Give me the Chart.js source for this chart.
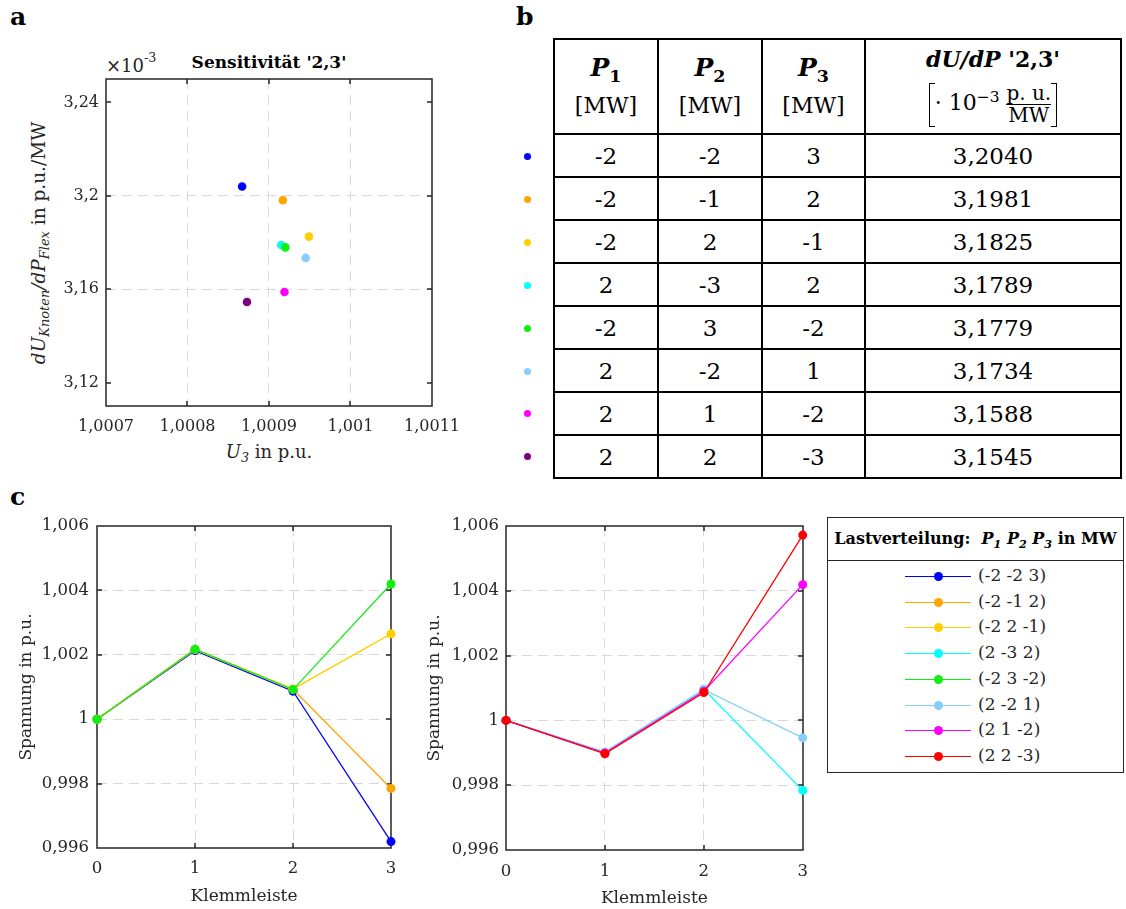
<!DOCTYPE html>
<html>
<head>
<meta charset="utf-8">
<script src="https://cdn.jsdelivr.net/npm/chart.js@4.4.1/dist/chart.umd.min.js"></script>
<style>
  body { margin: 0; background: #fff; font-family: 'DejaVu Serif', serif; color: #262626; }
  #page { position: relative; width: 1126px; height: 909px; overflow: hidden; }
  canvas { position: absolute; }
  .lbl { position: absolute; font-weight: bold; font-size: 25px; color: #000; }
  .abs { position: absolute; white-space: nowrap; }
  sub, sup { font-size: 70%; }
  #tbl { position: absolute; left: 553px; top: 38px; width: 559px; border-collapse: collapse; table-layout: fixed; color: #000; }
  #tbl td, #tbl th { border: 2px solid #000; text-align: center; padding: 0; font-size: 23px; font-weight: normal; }
  #tbl th { height: 93px; }
  #tbl td { height: 41px; }
  .tdot { position: absolute; width: 7px; height: 7px; border-radius: 50%; }
  .frac { display: inline-flex; flex-direction: column; vertical-align: middle; font-size: 20px; line-height: 21px; }
  .frac span:first-child { border-bottom: 1.5px solid #000; }
  .brk { display: inline-block; width: 5px; height: 42px; border: 1.5px solid #000; vertical-align: middle; }
  #legend { position: absolute; left: 827px; top: 517px; width: 297px; height: 256px; box-sizing: border-box; border: 1.5px solid #262626; background: #fff; }
  #legend .hdr { height: 42px; line-height: 42px; border-bottom: 1.5px solid #262626; text-align: center; font-weight: bold; font-size: 16px; color: #000; }
  .lrow { position: absolute; height: 20px; }
  .lline { position: absolute; left: 77px; top: 9px; width: 66px; height: 1.5px; }
  .ldot { position: absolute; left: 106px; top: 5px; width: 9px; height: 9px; border-radius: 50%; }
  .ltxt { position: absolute; left: 150px; top: -2px; font-size: 17px; white-space: nowrap; }
</style>
</head>
<body>
<div id="page">
  <div class="lbl" style="left:10px; top:2px;">a</div>
  <div class="lbl" style="left:516px; top:2px;">b</div>
  <div class="lbl" style="left:10px; top:482px;">c</div>

  <!-- panel a -->
  <div class="abs" style="left:106px; top:52px; width:326px; text-align:center; font-weight:bold; font-size:17px; color:#000;">Sensitivität '2,3'</div>
  <div class="abs" style="left:106px; top:53px; font-size:18px;">×10<sup style="position:relative; top:-3px;">-3</sup></div>
  <div class="abs" style="left:40px; top:243px; transform: translate(-50%, -50%) rotate(-90deg); font-size:18.5px;">
    <i>dU</i><sub><i>Knoten</i></sub><i>/dP</i><sub><i>Flex</i></sub> in p.u./MW
  </div>
  <div class="abs" style="left:269px; top:453px; transform: translate(-50%, -50%); font-size:18px;">
    <i>U</i><sub><i>3</i></sub> in p.u.
  </div>
  <canvas id="chartA" width="472" height="410" style="left:0; top:59px;"></canvas>

  <!-- panel b -->
  <table id="tbl"></table>

  <!-- panel c -->
  <canvas id="chartC1" width="410" height="403" style="left:0; top:506px;"></canvas>
  <canvas id="chartC2" width="410" height="403" style="left:410px; top:506px;"></canvas>
  <div id="legend">
    <div class="hdr">Lastverteilung:&nbsp; <i>P</i><sub><i>1</i></sub> <i>P</i><sub><i>2</i></sub> <i>P</i><sub><i>3</i></sub> in MW</div>
  </div>
</div>

<script>
// ---- data ----
// panel a: sensitivity vs. U3 for the eight load distributions
const aU3 = [1.000867, 1.000917, 1.000949, 1.000915, 1.00092, 1.000945, 1.000919, 1.000873];
const aSens = [3.2040, 3.1981, 3.1825, 3.1789, 3.1779, 3.1734, 3.1588, 3.1545];
const aXTicks = [1.0007, 1.0008, 1.0009, 1.001, 1.0011];
const aXTickLabels = ['1,0007', '1,0008', '1,0009', '1,001', '1,0011'];
const aYTicks = [3.12, 3.16, 3.2, 3.24];
const aYTickLabels = ['3,12', '3,16', '3,2', '3,24'];
const dotColors = ['#0000ff', '#ffa500', '#ffd000', '#00ffff', '#11ee11', '#87cefa', '#ff00ff', '#7f007f'];

// panel b: load distribution table
const tblP1 = [-2, -2, -2, 2, -2, 2, 2, 2];
const tblP2 = [-2, -1, 2, -3, 3, -2, 1, 2];
const tblP3 = [3, 2, -1, 2, -2, 1, -2, -3];

// panel c: voltage along the feeder
const klemmleiste = [0, 1, 2, 3];
const cYTicks = [0.996, 0.998, 1, 1.002, 1.004, 1.006];
const cYTickLabels = ['0,996', '0,998', '1', '1,002', '1,004', '1,006'];
const legendLabels = ['(-2 -2 3)', '(-2 -1 2)', '(-2 2 -1)', '(2 -3 2)', '(-2 3 -2)', '(2 -2 1)', '(2 1 -2)', '(2 2 -3)'];
const lineColors = ['#0000ff', '#ffa500', '#ffd000', '#00ffff', '#11ee11', '#87cefa', '#ff00ff', '#ff0000'];
const uBlue = [1.0, 1.00213, 1.00087, 0.9962];
const uOrange = [1.0, 1.00216, 1.00093, 0.99785];
const uYellow = [1.0, 1.00217, 1.00094, 1.00265];
const uCyan = [1.0, 0.99902, 1.00096, 0.99784];
const uGreen = [1.0, 1.00217, 1.00092, 1.0042];
const uLightBlue = [1.0, 0.99902, 1.00095, 0.99946];
const uMagenta = [1.0, 0.99899, 1.0009, 1.00419];
const uRed = [1.0, 0.99897, 1.00086, 1.00572];

// ---- styling ----
const AXIS = '#262626';
const GRID = '#d9d9d9';
const TICK_LEN = 5;
Chart.defaults.font.family = "'DejaVu Serif', serif";
Chart.defaults.color = AXIS;
Chart.defaults.animation = false;

// MATLAB style box: frame round the plot area with ticks pointing inwards
const boxPlugin = {
    id: 'matlabBox',
    beforeDatasetsDraw(chart) {
        const ctx = chart.ctx;
        const a = chart.chartArea;
        const x = chart.scales.x, y = chart.scales.y;
        const l = Math.round(a.left), r = Math.round(a.right);
        const t = Math.round(a.top), b = Math.round(a.bottom);
        ctx.save();
        ctx.setLineDash([]);
        ctx.strokeStyle = AXIS;
        ctx.lineWidth = 1.5;
        ctx.beginPath();
        ctx.moveTo(l, t); ctx.lineTo(r, t); ctx.lineTo(r, b); ctx.lineTo(l, b); ctx.closePath();
        x.ticks.forEach(tk => {
            const px = Math.round(x.getPixelForValue(tk.value));
            ctx.moveTo(px, b); ctx.lineTo(px, b - TICK_LEN);
            ctx.moveTo(px, t); ctx.lineTo(px, t + TICK_LEN);
        });
        y.ticks.forEach(tk => {
            const py = Math.round(y.getPixelForValue(tk.value));
            ctx.moveTo(l, py); ctx.lineTo(l + TICK_LEN, py);
            ctx.moveTo(r, py); ctx.lineTo(r - TICK_LEN, py);
        });
        ctx.stroke();
        ctx.restore();
    }
};

// grid line colour, hidden on the box edges
function gridColor(ticks) {
    return ctx => {
        const v = ctx.tick ? ctx.tick.value : null;
        return (v === ticks[0] || v === ticks[ticks.length - 1]) ? 'rgba(0,0,0,0)' : GRID;
    };
}

// axis with fixed tick values/labels and dashed grid
function mainAxis(min, max, values, labels, size, pad, fontSize) {
    return {
        type: 'linear', min: min, max: max,
        afterBuildTicks: axis => { axis.ticks = values.map(v => ({ value: v })); },
        afterFit: s => { if (s.isHorizontal()) s.height = size; else s.width = size; },
        ticks: { callback: (v, i) => labels[i], font: { size: fontSize }, padding: pad, maxRotation: 0 },
        grid: { color: gridColor(values), drawTicks: false },
        border: { display: false, dash: [10, 6] }
    };
}

// ---- panel a ----
new Chart(document.getElementById('chartA'), {
    type: 'scatter',
    data: {
        datasets: [{
            data: aU3.map((x, i) => ({ x: x, y: aSens[i] })),
            pointBackgroundColor: dotColors,
            pointBorderWidth: 0,
            pointRadius: 4.3
        }]
    },
    options: {
        responsive: false,
        layout: { padding: { top: 20, right: 40, left: 0, bottom: 0 } },
        plugins: { legend: { display: false }, tooltip: { enabled: false } },
        scales: {
            x: mainAxis(1.0007, 1.0011, aXTicks, aXTickLabels, 63, 11, 16),
            y: mainAxis(3.11, 3.25, aYTicks, aYTickLabels, 106, 7, 16)
        }
    },
    plugins: [boxPlugin]
});

// ---- panel b ----
const tbl = document.getElementById('tbl');
const colW = [102, 102, 101, 254];
let head = '<tr>';
for (let k = 1; k <= 3; k++) {
    head += `<th style="width:${colW[k - 1]}px"><div style="font-weight:bold;font-size:25px;line-height:30px"><i>P</i><sub>${k}</sub></div>` +
        `<div style="font-size:22px;line-height:30px">[MW]</div></th>`;
}
head += `<th style="width:${colW[3]}px"><div style="font-weight:bold;font-size:22px;line-height:28px"><i>dU/dP</i> '2,3'</div>` +
    `<div style="line-height:48px;font-size:22px"><span class="brk" style="border-right:none"></span>· 10<sup>−3</sup> ` +
    `<span class="frac"><span>p. u.</span><span>MW</span></span><span class="brk" style="border-left:none"></span></div></th>`;
tbl.innerHTML = head + '</tr>' + tblP1.map((p1, i) =>
    `<tr><td>${p1}</td><td>${tblP2[i]}</td><td>${tblP3[i]}</td><td>${aSens[i].toFixed(4).replace('.', ',')}</td></tr>`
).join('');
// colour dots in front of the rows
const rowCenters = [156, 199, 242, 285, 328, 371, 413, 456];
rowCenters.forEach((y, i) => {
    const d = document.createElement('div');
    d.className = 'tdot';
    d.style.left = '524px';
    d.style.top = (y - 3.5) + 'px';
    d.style.background = dotColors[i];
    document.getElementById('page').appendChild(d);
});

// ---- panel c ----
function lineSet(values, color) {
    return {
        data: values,
        borderColor: color,
        backgroundColor: color,
        pointBackgroundColor: color,
        pointBorderWidth: 0,
        pointRadius: 4.5,
        borderWidth: 1.3,
        tension: 0,
        clip: false
    };
}

function voltageChart(id, datasets, pad, yWidth, xHeight, titlePadX, titlePadY, tickPadX, tickPadY) {
    const x = mainAxis(0, 3, klemmleiste, klemmleiste.map(String), xHeight, tickPadX, 16.5);
    x.title = { display: true, text: 'Klemmleiste', font: { size: 17 }, padding: { top: 0, bottom: titlePadX } };
    const y = mainAxis(0.996, 1.006, cYTicks, cYTickLabels, yWidth, tickPadY, 16.5);
    y.title = { display: true, text: 'Spannung in p.u.', font: { size: 17 }, padding: { top: titlePadY, bottom: 0 } };
    return new Chart(document.getElementById(id), {
        type: 'line',
        data: { labels: klemmleiste, datasets: datasets },
        options: {
            responsive: false,
            layout: { padding: pad },
            plugins: { legend: { display: false }, tooltip: { enabled: false } },
            scales: { x: x, y: y }
        },
        plugins: [boxPlugin]
    });
}

// first dataset is drawn on top
voltageChart('chartC1', [
    lineSet(uGreen, lineColors[4]),
    lineSet(uYellow, lineColors[2]),
    lineSet(uOrange, lineColors[1]),
    lineSet(uBlue, lineColors[0])
], { top: 20, right: 19, left: 0, bottom: 0 }, 97, 61, 2, 16, 11, 8);

voltageChart('chartC2', [
    lineSet(uRed, lineColors[7]),
    lineSet(uMagenta, lineColors[6]),
    lineSet(uLightBlue, lineColors[5]),
    lineSet(uCyan, lineColors[3])
], { top: 20, right: 16, left: 0, bottom: 0 }, 96, 59, 0, 14, 12, 7);

// legend for panel c
const legendRows = [577, 603, 628, 654, 680, 706, 731, 757];
const legend = document.getElementById('legend');
legendLabels.forEach((txt, i) => {
    const row = document.createElement('div');
    row.className = 'lrow';
    row.style.top = (legendRows[i] - 517 - 10 - 1.5) + 'px';
    row.style.left = '0px';
    row.innerHTML = `<span class="lline" style="background:${lineColors[i]}"></span>` +
        `<span class="ldot" style="background:${lineColors[i]}"></span>` +
        `<span class="ltxt">${txt}</span>`;
    legend.appendChild(row);
});
</script>
</body>
</html>
